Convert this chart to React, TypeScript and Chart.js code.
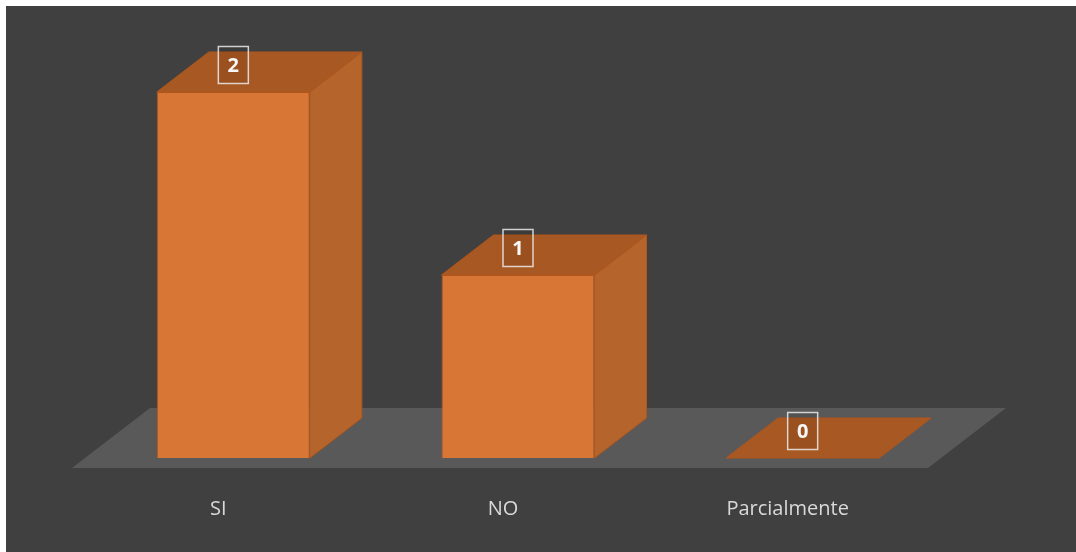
import React, { useEffect, useRef } from "react";
import { Chart, registerables } from "chart.js";

Chart.register(...registerables);

const categories = ["SI", "NO", "Parcialmente"];
const values = [2, 1, 0];
const yMax = 2;

const BG = "#404040";
const FLOOR = "#595959";
const FRONT = "#D87636";
const SIDE = "#B5642C";
const TOP = "#A85822";
const EDGE = "#B0561C";
const DX = 52;
const DY = 40;

function poly(ctx: CanvasRenderingContext2D, pts: number[][], fill: string, stroke?: string) {
  ctx.beginPath();
  ctx.moveTo(pts[0][0], pts[0][1]);
  for (let i = 1; i < pts.length; i++) ctx.lineTo(pts[i][0], pts[i][1]);
  ctx.closePath();
  ctx.fillStyle = fill;
  ctx.fill();
  if (stroke) {
    ctx.strokeStyle = stroke;
    ctx.lineWidth = 1;
    ctx.stroke();
  }
}

const threeD = {
  id: "threeD",
  beforeDatasetsDraw(chart: any) {
    const { ctx, chartArea } = chart;
    const yBase = chart.scales.y.getPixelForValue(0);
    const fl = chartArea.left - 6;
    const fr = chartArea.right - 4;
    ctx.save();
    poly(ctx, [
      [fl - 13, yBase + 10],
      [fr - 13, yBase + 10],
      [fr + DX + 13, yBase - DY - 10],
      [fl + DX + 13, yBase - DY - 10],
    ], FLOOR);
    const meta = chart.getDatasetMeta(0);
    meta.data.forEach((bar: any) => {
      const { x, y, base, width } = bar.getProps(["x", "y", "base", "width"], true);
      const l = x - width / 2;
      const r = x + width / 2;
      if (base - y > 0.5) {
        poly(ctx, [[r, y], [r + DX, y - DY], [r + DX, base - DY], [r, base]], SIDE, EDGE);
      }
      poly(ctx, [[l, y], [r, y], [r + DX, y - DY], [l + DX, y - DY]], TOP, EDGE);
    });
    ctx.restore();
  },
  afterDatasetsDraw(chart: any) {
    const { ctx } = chart;
    const meta = chart.getDatasetMeta(0);
    ctx.save();
    meta.data.forEach((bar: any, i: number) => {
      const { x, y } = bar.getProps(["x", "y"], true);
      const cy = y - 27;
      const w = 30;
      const h = 37;
      ctx.fillStyle = "rgba(0,0,0,0.08)";
      ctx.fillRect(x - w / 2, cy - h / 2, w, h);
      ctx.strokeStyle = "rgba(235,235,235,0.85)";
      ctx.lineWidth = 1.5;
      ctx.strokeRect(x - w / 2, cy - h / 2, w, h);
      ctx.fillStyle = "#F7F7F7";
      ctx.font = "bold 20px 'Open Sans'";
      ctx.textAlign = "center";
      ctx.textBaseline = "middle";
      ctx.fillText(String(values[i]), x, cy + 1);
    });
    ctx.restore();
  },
};

export default function App() {
  const ref = useRef<HTMLCanvasElement | null>(null);
  useEffect(() => {
    if (!ref.current) return;
    const chart = new Chart(ref.current, {
      type: "bar",
      data: {
        labels: categories,
        datasets: [
          {
            data: values,
            backgroundColor: FRONT,
            borderColor: EDGE,
            borderWidth: 1,
            barPercentage: 0.5375,
            categoryPercentage: 1,
            clip: false as any,
          },
        ],
      },
      options: {
        responsive: false,
        animation: false,
        layout: { padding: { left: 85, right: 131, top: 86, bottom: 0 } },
        plugins: { legend: { display: false }, tooltip: { enabled: false } },
        scales: {
          x: {
            grid: { display: false, drawTicks: false },
            border: { display: false },
            afterFit: (scale: any) => {
              scale.height = 94;
            },
            ticks: {
              color: "#D9D9D9",
              font: { family: "'Open Sans'", size: 20 },
              padding: 39,
              labelOffset: -15,
              maxRotation: 0,
            },
          },
          y: { display: false, min: 0, max: yMax },
        },
      },
      plugins: [threeD],
    });
    return () => chart.destroy();
  }, []);
  return (
    <div style={{ position: "absolute", left: 6, top: 6, width: 1070, height: 546, background: BG }}>
      <canvas ref={ref} width={1070} height={546} style={{ display: "block" }} />
    </div>
  );
}
